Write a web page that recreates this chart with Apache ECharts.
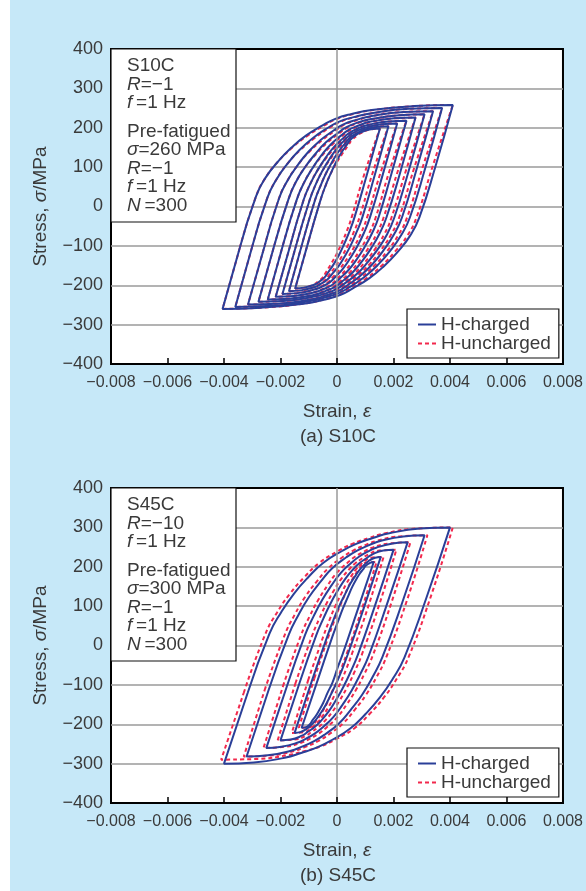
<!DOCTYPE html>
<html>
<head>
<meta charset="utf-8">
<script src="https://cdn.jsdelivr.net/npm/echarts@6/dist/echarts.min.js"></script>
<style>html,body{margin:0;padding:0;background:#fff}#c{width:586px;height:891px}</style>
</head>
<body>
<div id="c"></div>
<script>
// Strain values are in units of 10^-3 (axis labels show the true strain).
const strainTicks = ['\u22120.008', '\u22120.006', '\u22120.004', '\u22120.002', '0', '0.002', '0.004', '0.006', '0.008'];
const stressTicks = ['\u2212400', '\u2212300', '\u2212200', '\u2212100', '0', '100', '200', '300', '400'];

// (a) S10C, H-charged loops: [strain(x1e-3), stress MPa]
const s10cCharged = [
  [[-4.05,-260],[-3.44,-105],[-2.87,25],[-2.54,72],[-2.10,113],[-1.62,149],[-1.10,180],[-0.51,206],[-0.08,222],[0.52,235],[1.23,245],[2.74,255],[4.10,258],[3.49,103],[2.92,-27],[2.59,-74],[2.15,-115],[1.67,-151],[1.15,-182],[0.56,-208],[0.13,-224],[-0.47,-237],[-1.18,-247],[-2.69,-257],[-4.05,-260]],
  [[-3.60,-255],[-3.01,-104],[-2.46,23],[-2.15,68],[-1.75,109],[-1.32,144],[-0.85,174],[-0.32,200],[0.06,215],[0.59,227],[1.22,237],[2.54,248],[3.72,250],[3.13,99],[2.58,-28],[2.27,-73],[1.87,-114],[1.44,-149],[0.97,-179],[0.44,-205],[0.06,-220],[-0.47,-232],[-1.10,-242],[-2.42,-253],[-3.60,-255]],
  [[-3.15,-249],[-2.57,-102],[-2.05,21],[-1.76,65],[-1.39,105],[-1.01,139],[-0.59,168],[-0.12,193],[0.21,208],[0.68,220],[1.23,230],[2.37,240],[3.40,242],[2.82,95],[2.30,-28],[2.01,-72],[1.64,-112],[1.26,-146],[0.84,-175],[0.37,-200],[0.04,-215],[-0.43,-227],[-0.98,-237],[-2.12,-247],[-3.15,-249]],
  [[-2.78,-242],[-2.22,-99],[-1.71,20],[-1.45,63],[-1.12,101],[-0.76,134],[-0.39,163],[0.02,186],[0.32,201],[0.73,213],[1.21,222],[2.21,232],[3.10,234],[2.54,91],[2.03,-28],[1.77,-71],[1.44,-109],[1.08,-142],[0.71,-171],[0.30,-194],[0.00,-209],[-0.41,-221],[-0.89,-230],[-1.89,-240],[-2.78,-242]],
  [[-2.45,-236],[-1.91,-97],[-1.42,18],[-1.17,60],[-0.87,97],[-0.56,129],[-0.23,157],[0.14,180],[0.40,194],[0.75,205],[1.16,215],[2.02,224],[2.78,226],[2.24,87],[1.75,-28],[1.50,-70],[1.20,-107],[0.89,-139],[0.56,-167],[0.19,-190],[-0.07,-204],[-0.42,-215],[-0.83,-225],[-1.69,-234],[-2.45,-236]],
  [[-2.17,-229],[-1.64,-95],[-1.18,17],[-0.95,57],[-0.68,93],[-0.40,124],[-0.11,151],[0.21,173],[0.44,187],[0.74,198],[1.09,207],[1.82,216],[2.46,218],[1.93,84],[1.47,-28],[1.24,-68],[0.97,-104],[0.69,-135],[0.40,-162],[0.08,-184],[-0.15,-198],[-0.45,-209],[-0.80,-218],[-1.53,-227],[-2.17,-229]],
  [[-1.93,-222],[-1.42,-92],[-0.97,16],[-0.76,55],[-0.52,90],[-0.27,120],[-0.02,146],[0.26,168],[0.45,181],[0.71,192],[1.00,200],[1.60,209],[2.13,211],[1.62,81],[1.17,-27],[0.96,-66],[0.72,-101],[0.47,-131],[0.22,-157],[-0.06,-179],[-0.25,-192],[-0.51,-203],[-0.80,-211],[-1.40,-220],[-1.93,-222]],
  [[-1.70,-215],[-1.21,-89],[-0.78,16],[-0.58,53],[-0.37,87],[-0.15,116],[0.07,141],[0.31,162],[0.47,175],[0.68,185],[0.92,194],[1.40,202],[1.82,204],[1.33,78],[0.90,-27],[0.70,-64],[0.49,-98],[0.27,-127],[0.05,-152],[-0.19,-173],[-0.35,-186],[-0.56,-196],[-0.80,-205],[-1.28,-213],[-1.70,-215]],
  [[-1.48,-208],[-1.00,-86],[-0.59,15],[-0.41,52],[-0.22,84],[-0.03,113],[0.16,137],[0.35,157],[0.48,170],[0.65,180],[0.83,188],[1.20,196],[1.52,198],[1.04,76],[0.63,-25],[0.45,-62],[0.26,-94],[0.07,-123],[-0.12,-147],[-0.31,-167],[-0.44,-180],[-0.61,-190],[-0.79,-198],[-1.16,-206],[-1.48,-208]]
];
// (a) S10C, H-uncharged loops
const s10cUncharged = [
  [[-4.05,-260],[-3.44,-105],[-2.87,25],[-2.54,72],[-2.10,113],[-1.59,149],[-1.04,180],[-0.45,206],[-0.02,222],[0.58,235],[1.29,245],[2.74,255],[4.10,258],[3.39,103],[2.82,-27],[2.49,-74],[2.05,-115],[1.57,-151],[1.05,-182],[0.48,-208],[0.07,-224],[-0.52,-237],[-1.21,-247],[-2.69,-257],[-4.05,-260]],
  [[-3.60,-255],[-3.01,-104],[-2.46,23],[-2.15,68],[-1.75,109],[-1.29,144],[-0.79,174],[-0.26,200],[0.12,215],[0.65,227],[1.28,237],[2.54,248],[3.72,250],[3.03,99],[2.48,-28],[2.17,-73],[1.77,-114],[1.34,-149],[0.87,-179],[0.36,-205],[0.00,-220],[-0.52,-232],[-1.13,-242],[-2.42,-253],[-3.60,-255]],
  [[-3.15,-249],[-2.57,-102],[-2.05,21],[-1.76,65],[-1.39,105],[-0.98,139],[-0.53,168],[-0.06,193],[0.27,208],[0.74,220],[1.29,230],[2.37,240],[3.40,242],[2.72,95],[2.20,-28],[1.91,-72],[1.54,-112],[1.16,-146],[0.74,-175],[0.29,-200],[-0.02,-215],[-0.48,-227],[-1.01,-237],[-2.12,-247],[-3.15,-249]],
  [[-2.78,-242],[-2.22,-99],[-1.71,20],[-1.45,63],[-1.12,101],[-0.73,134],[-0.33,163],[0.08,186],[0.38,201],[0.79,213],[1.27,222],[2.21,232],[3.10,234],[2.44,91],[1.93,-28],[1.67,-71],[1.34,-109],[0.98,-142],[0.61,-171],[0.22,-194],[-0.06,-209],[-0.46,-221],[-0.92,-230],[-1.89,-240],[-2.78,-242]],
  [[-2.45,-236],[-1.91,-97],[-1.42,18],[-1.17,60],[-0.87,97],[-0.53,129],[-0.17,157],[0.20,180],[0.46,194],[0.81,205],[1.22,215],[2.02,224],[2.78,226],[2.14,87],[1.65,-28],[1.40,-70],[1.10,-107],[0.79,-139],[0.46,-167],[0.11,-190],[-0.13,-204],[-0.47,-215],[-0.86,-225],[-1.69,-234],[-2.45,-236]],
  [[-2.17,-229],[-1.64,-95],[-1.18,17],[-0.95,57],[-0.68,93],[-0.37,124],[-0.05,151],[0.27,173],[0.50,187],[0.80,198],[1.15,207],[1.82,216],[2.46,218],[1.83,84],[1.37,-28],[1.14,-68],[0.87,-104],[0.59,-135],[0.30,-162],[0.00,-184],[-0.21,-198],[-0.50,-209],[-0.83,-218],[-1.53,-227],[-2.17,-229]],
  [[-1.93,-222],[-1.42,-92],[-0.97,16],[-0.76,55],[-0.52,90],[-0.24,120],[0.04,146],[0.32,168],[0.51,181],[0.77,192],[1.06,200],[1.60,209],[2.13,211],[1.52,81],[1.07,-27],[0.86,-66],[0.62,-101],[0.37,-131],[0.12,-157],[-0.14,-179],[-0.31,-192],[-0.56,-203],[-0.83,-211],[-1.40,-220],[-1.93,-222]],
  [[-1.70,-215],[-1.21,-89],[-0.78,16],[-0.58,53],[-0.37,87],[-0.12,116],[0.13,141],[0.37,162],[0.53,175],[0.74,185],[0.98,194],[1.40,202],[1.82,204],[1.23,78],[0.80,-27],[0.60,-64],[0.39,-98],[0.17,-127],[-0.05,-152],[-0.27,-173],[-0.41,-186],[-0.61,-196],[-0.83,-205],[-1.28,-213],[-1.70,-215]],
  [[-1.48,-208],[-1.00,-86],[-0.59,15],[-0.41,52],[-0.22,84],[0.00,113],[0.22,137],[0.41,157],[0.54,170],[0.71,180],[0.89,188],[1.20,196],[1.52,198],[0.94,76],[0.53,-25],[0.35,-62],[0.16,-94],[-0.03,-123],[-0.22,-147],[-0.39,-167],[-0.50,-180],[-0.66,-190],[-0.82,-198],[-1.16,-206],[-1.48,-208]]
];
// (b) S45C, H-charged loops
const s45cCharged = [
  [[-4.00,-300],[-3.16,-120],[-2.39,30],[-1.98,84],[-1.52,132],[-1.01,174],[-0.48,210],[0.18,240],[0.68,258],[1.27,273],[1.85,285],[2.94,297],[4.00,300],[3.16,120],[2.39,-30],[1.98,-84],[1.52,-132],[1.01,-174],[0.48,-210],[-0.18,-240],[-0.68,-258],[-1.27,-273],[-1.85,-285],[-2.94,-297],[-4.00,-300]],
  [[-3.20,-282],[-2.42,-113],[-1.71,27],[-1.36,78],[-0.99,123],[-0.58,162],[-0.17,196],[0.33,224],[0.71,241],[1.14,255],[1.56,266],[2.35,277],[3.10,280],[2.32,111],[1.61,-29],[1.26,-80],[0.89,-125],[0.48,-164],[0.07,-198],[-0.43,-226],[-0.81,-243],[-1.24,-257],[-1.66,-268],[-2.45,-279],[-3.20,-282]],
  [[-2.50,-260],[-1.77,-103],[-1.13,27],[-0.83,74],[-0.52,116],[-0.20,152],[0.13,184],[0.51,210],[0.79,226],[1.11,239],[1.41,249],[1.97,259],[2.50,262],[1.77,105],[1.13,-25],[0.83,-72],[0.52,-114],[0.20,-150],[-0.13,-182],[-0.51,-208],[-0.79,-224],[-1.11,-237],[-1.41,-247],[-1.97,-257],[-2.50,-260]],
  [[-2.00,-241],[-1.33,-96],[-0.74,25],[-0.48,69],[-0.22,108],[0.04,141],[0.30,170],[0.59,195],[0.79,209],[1.03,221],[1.24,231],[1.64,241],[2.00,243],[1.33,98],[0.74,-23],[0.48,-67],[0.22,-106],[-0.04,-139],[-0.30,-168],[-0.59,-193],[-0.79,-207],[-1.03,-219],[-1.24,-229],[-1.64,-239],[-2.00,-241]],
  [[-1.50,-222],[-0.88,-88],[-0.34,24],[-0.13,64],[0.08,100],[0.29,131],[0.48,158],[0.68,180],[0.82,194],[0.97,205],[1.11,214],[1.35,223],[1.55,225],[0.93,91],[0.39,-21],[0.18,-61],[-0.03,-97],[-0.24,-128],[-0.43,-155],[-0.63,-177],[-0.77,-191],[-0.92,-202],[-1.06,-211],[-1.30,-220],[-1.50,-222]],
  [[-1.25,-209],[-0.66,-83],[-0.16,23],[0.03,60],[0.21,94],[0.39,124],[0.54,149],[0.70,170],[0.81,183],[0.92,193],[1.01,202],[1.17,210],[1.30,212],[0.71,86],[0.21,-20],[0.02,-57],[-0.16,-94],[-0.34,-121],[-0.49,-146],[-0.65,-167],[-0.76,-180],[-0.87,-190],[-0.96,-200],[-1.12,-208],[-1.25,-209]]
];
// (b) S45C, H-uncharged loops
const s45cUncharged = [
  [[-4.10,-290],[-3.30,-120],[-2.53,30],[-2.12,84],[-1.66,132],[-1.15,174],[-0.62,210],[0.04,240],[0.54,258],[1.13,273],[1.71,285],[2.80,297],[4.10,300],[3.30,120],[2.53,-30],[2.12,-84],[1.66,-132],[1.15,-174],[0.62,-210],[-0.04,-238],[-0.54,-255],[-1.13,-268],[-1.71,-278],[-2.80,-288],[-4.10,-290]],
  [[-3.30,-282],[-2.56,-113],[-1.85,27],[-1.50,78],[-1.13,123],[-0.72,162],[-0.31,196],[0.19,224],[0.57,241],[1.00,255],[1.42,266],[2.21,277],[3.20,280],[2.46,111],[1.75,-29],[1.40,-80],[1.03,-125],[0.62,-164],[0.21,-198],[-0.29,-226],[-0.67,-243],[-1.10,-257],[-1.52,-268],[-2.31,-279],[-3.30,-282]],
  [[-2.60,-260],[-1.91,-103],[-1.27,27],[-0.97,74],[-0.66,116],[-0.34,152],[-0.01,184],[0.37,210],[0.65,226],[0.97,239],[1.27,249],[1.83,259],[2.60,262],[1.91,105],[1.27,-25],[0.97,-72],[0.66,-114],[0.34,-150],[0.01,-182],[-0.37,-208],[-0.65,-224],[-0.97,-237],[-1.27,-247],[-1.83,-257],[-2.60,-260]],
  [[-2.10,-241],[-1.47,-96],[-0.88,25],[-0.62,69],[-0.36,108],[-0.10,141],[0.16,170],[0.45,195],[0.65,209],[0.89,221],[1.10,231],[1.50,241],[2.10,243],[1.47,98],[0.88,-23],[0.62,-67],[0.36,-106],[0.10,-139],[-0.16,-168],[-0.45,-193],[-0.65,-207],[-0.89,-219],[-1.10,-229],[-1.50,-239],[-2.10,-241]],
  [[-1.60,-222],[-1.02,-88],[-0.48,24],[-0.27,64],[-0.06,100],[0.15,131],[0.34,158],[0.54,180],[0.68,194],[0.83,205],[0.97,214],[1.21,223],[1.65,225],[1.07,91],[0.53,-21],[0.32,-61],[0.11,-97],[-0.10,-128],[-0.29,-155],[-0.49,-177],[-0.63,-191],[-0.78,-202],[-0.92,-211],[-1.16,-220],[-1.60,-222]],
  [[-1.35,-209],[-0.80,-83],[-0.30,23],[-0.11,60],[0.07,94],[0.25,124],[0.40,149],[0.56,170],[0.67,183],[0.78,193],[0.87,202],[1.03,210],[1.40,212],[0.85,86],[0.35,-20],[0.16,-57],[-0.02,-94],[-0.20,-121],[-0.35,-146],[-0.51,-167],[-0.62,-180],[-0.73,-190],[-0.82,-200],[-0.98,-208],[-1.35,-209]]
];

const seriesNames = ['H-charged', 'H-uncharged'];
const panelCaptions = ['(a) S10C', '(b) S45C'];
const boxTop = ['S10C\n{i|R}=\u22121\n{i|f}\u2009=1 Hz', 'S45C\n{i|R}=\u221210\n{i|f}\u2009=1 Hz'];
const boxBottom = ['Pre-fatigued\n{i|\u03c3}=260 MPa\n{i|R}=\u22121\n{i|f}\u2009=1 Hz\n{i|N}\u2009=300',
                   'Pre-fatigued\n{i|\u03c3}=300 MPa\n{i|R}=\u22121\n{i|f}\u2009=1 Hz\n{i|N}\u2009=300'];

const FONT = '"Liberation Sans", Arial, sans-serif';
const BLUE = '#2a3f98';
const RED = '#f2284c';
const TXT = '#3a3a3a';

const PLOT_LEFT = 111, PLOT_W = 453, PLOT_H = 315;
const PLOT_TOPS = [49, 488];

// Each closed loop is drawn starting from its second point so that the lower tip
// becomes an interior (smoothed) vertex of the path.
function loopSeries(loops, name, g, color, dashed) {
  return loops.map(loop => ({
    type: 'line', name: name, xAxisIndex: g, yAxisIndex: g,
    data: loop.slice(1).concat([loop[1]]),
    smooth: 0.5, symbol: 'none', showSymbol: false, silent: true,
    lineStyle: { color: color, width: 2, type: dashed ? [4, 3] : 'solid' },
    itemStyle: { color: color },
    emphasis: { disabled: true }
  }));
}

const zeroLine = {
  silent: true, symbol: ['none', 'none'], label: { show: false },
  lineStyle: { color: '#9a9a9a', width: 1.5, type: 'solid' },
  data: [{ xAxis: 0 }]
};

const series = [];
[[s10cCharged, s10cUncharged], [s45cCharged, s45cUncharged]].forEach(([ch, un], g) => {
  const red = loopSeries(un, seriesNames[1], g, RED, true);
  red[0].markLine = zeroLine;
  series.push(...red, ...loopSeries(ch, seriesNames[0], g, BLUE, false));
});

const richI = { i: { fontStyle: 'italic', fontSize: 19, fontFamily: FONT, color: TXT } };

const option = {
  backgroundColor: '#c6e8f8',
  animation: false,
  textStyle: { fontFamily: FONT },
  grid: PLOT_TOPS.map(t => ({
    left: PLOT_LEFT, top: t, width: PLOT_W, height: PLOT_H,
    show: true, backgroundColor: '#fff', borderColor: '#000', borderWidth: 2
  })),
  xAxis: [0, 1].map(g => ({
    type: 'value', gridIndex: g, min: -8, max: 8, interval: 2, position: 'bottom',
    axisLine: { show: true, onZero: false, lineStyle: { color: '#000', width: 2 } },
    axisTick: { show: true, inside: true, length: 6, lineStyle: { color: '#000', width: 1.5 } },
    splitLine: { show: false },
    axisLabel: { margin: 11, fontSize: 16, color: TXT,
      formatter: v => strainTicks[Math.round((v + 8) / 2)] },
    name: 'Strain, {i|\u03b5}', nameLocation: 'middle', nameGap: 38,
    nameTextStyle: { fontSize: 19, color: TXT, fontFamily: FONT, rich: richI },
    z: 10
  })),
  yAxis: [0, 1].map(g => ({
    type: 'value', gridIndex: g, min: -400, max: 400, interval: 100, position: 'left',
    axisLine: { show: false, onZero: false }, axisTick: { show: false },
    splitLine: { show: true, showMinLine: false, showMaxLine: false, lineStyle: { color: '#9a9a9a', width: 1.5 } },
    axisLabel: { margin: 8, fontSize: 18, color: TXT,
      formatter: v => stressTicks[Math.round((v + 400) / 100)] },
    name: 'Stress, {i|\u03c3}/MPa', nameLocation: 'middle', nameGap: 61,
    nameTextStyle: { fontSize: 19, color: TXT, fontFamily: FONT, rich: richI }
  })),
  legend: PLOT_TOPS.map(t => ({
    data: seriesNames, orient: 'vertical', left: 407, top: t + 260,
    itemWidth: 18, itemHeight: 12, itemGap: 0,
    padding: [6, 8, 5, 10], backgroundColor: '#fff', borderColor: '#111', borderWidth: 1.2,
    borderRadius: 0, selectedMode: false,
    itemStyle: { opacity: 0, borderWidth: 0 },
    textStyle: { fontSize: 19, color: TXT, fontFamily: FONT, lineHeight: 19 }
  })),
  graphic: [
    { type: 'rect', shape: { x: 0, y: 0, width: 10, height: 891 }, style: { fill: '#fff' }, z: 0 }
  ].concat(...PLOT_TOPS.map((t, k) => [
    { type: 'rect', z: 50, shape: { x: PLOT_LEFT, y: t, width: 125, height: 173 },
      style: { fill: '#fff', stroke: '#111', lineWidth: 1.2 } },
    { type: 'text', z: 51, style: { text: boxTop[k], x: 127, y: t + 7.75, fontSize: 19, fontFamily: FONT,
      fill: TXT, lineHeight: 18.5, verticalAlign: 'top',
      rich: { i: { fontStyle: 'italic', fontSize: 19, fontFamily: FONT, fill: TXT, lineHeight: 18.5 } } } },
    { type: 'text', z: 51, style: { text: boxBottom[k], x: 127, y: t + 73.25, fontSize: 19, fontFamily: FONT,
      fill: TXT, lineHeight: 18.5, verticalAlign: 'top',
      rich: { i: { fontStyle: 'italic', fontSize: 19, fontFamily: FONT, fill: TXT, lineHeight: 18.5 } } } },
    { type: 'text', z: 51, style: { text: panelCaptions[k], x: 338, y: t + 388, fontSize: 19, fontFamily: FONT,
      fill: TXT, align: 'center', verticalAlign: 'middle' } }
  ])),
  series: series
};

const chart = echarts.init(document.getElementById('c'), null, { renderer: 'canvas' });
chart.setOption(option);
</script>
</body>
</html>
